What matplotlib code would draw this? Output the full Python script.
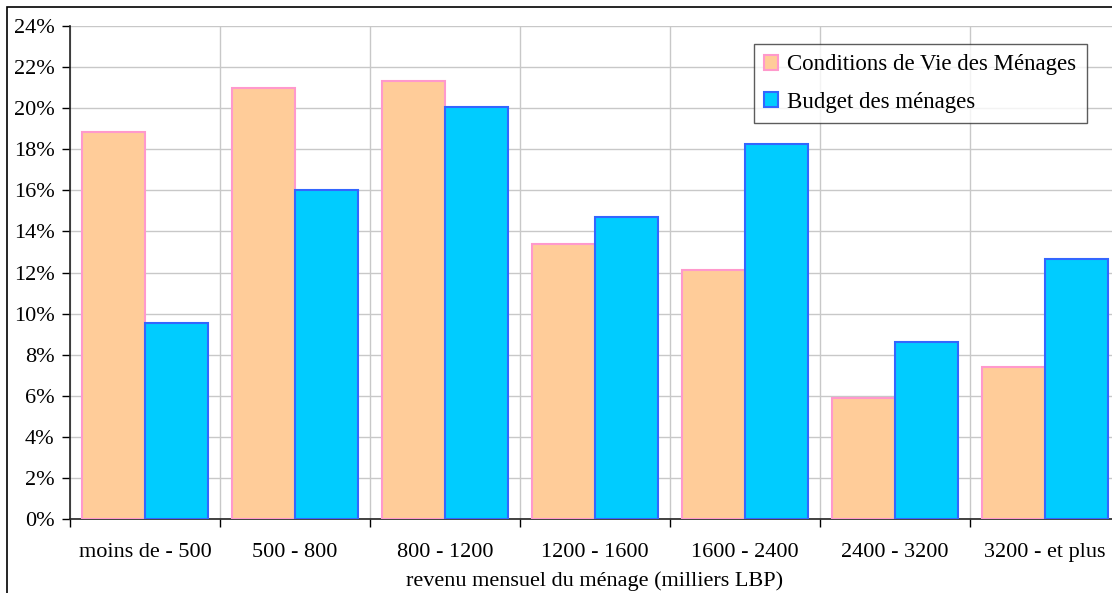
import matplotlib.pyplot as plt
import numpy as np
from matplotlib.patches import Rectangle
from matplotlib.ticker import FixedLocator, PercentFormatter

categories = ["moins de - 500", "500 - 800", "800 - 1200", "1200 - 1600",
              "1600 - 2400", "2400 - 3200", "3200 - et plus"]
conditions_vie = [18.85, 21.0, 21.3, 13.4, 12.1, 5.9, 7.4]
budget = [9.55, 16.0, 20.05, 14.7, 18.25, 8.6, 12.65]
series_names = ["Conditions de Vie des Ménages", "Budget des ménages"]

plt.rcParams["font.family"] = ["Liberation Serif", "DejaVu Serif"]

fig = plt.figure(figsize=(11.12, 5.93), dpi=100)
ax = fig.add_axes([70 / 1112, 1 - 519 / 593, 1050 / 1112, 493 / 593])

x = np.arange(len(categories))
w = 0.42
ax.bar(x - w / 2, conditions_vie, w, color="#FFCC99", edgecolor="#FF99CC",
       linewidth=1.5, label=series_names[0], zorder=3)
ax.bar(x + w / 2, budget, w, color="#00CCFF", edgecolor="#3366FF",
       linewidth=1.5, label=series_names[1], zorder=3)

ax.set_xlim(-0.5, len(categories) - 0.5)
ax.set_ylim(0, 24)
ax.set_yticks(np.arange(0, 25, 2))
ax.yaxis.set_major_formatter(PercentFormatter(decimals=0))

ax.xaxis.set_major_locator(FixedLocator(np.arange(-0.5, len(categories), 1)))
ax.xaxis.set_minor_locator(FixedLocator(x))
ax.set_xticklabels([])
ax.set_xticklabels(categories, minor=True)
ax.tick_params(axis="x", which="minor", length=0, pad=17, labelsize=16)
ax.tick_params(axis="x", which="major", length=6, width=1, direction="out")
ax.tick_params(axis="y", length=6, width=1, direction="out", labelsize=16, pad=5)

ax.grid(True, which="major", color="#C8C8C8", linewidth=1, zorder=0)
ax.set_axisbelow(True)

for side in ["top", "right"]:
    ax.spines[side].set_visible(False)
ax.spines["left"].set_color("#222222")
ax.spines["bottom"].set_color("#222222")
ax.spines["left"].set_linewidth(1.2)
ax.spines["bottom"].set_linewidth(1.2)

ax.set_xlabel("revenu mensuel du ménage (milliers LBP)", fontsize=16, labelpad=7)

leg = ax.legend(loc="upper left", bbox_to_anchor=(684 / 1050, 1 - 18 / 493),
                fontsize=16.5, frameon=True, fancybox=False, handlelength=0.6,
                handleheight=0.6, handletextpad=0.4, borderpad=0.45,
                labelspacing=0.72, borderaxespad=0)
leg.get_frame().set_edgecolor("#333333")
leg.get_frame().set_linewidth(1)

fig.patches.append(Rectangle((7 / 1112, -0.1), 1.2, 1.1 - 7 / 593,
                             transform=fig.transFigure, fill=False,
                             edgecolor="black", linewidth=1.2))

fig.savefig("out.png", dpi=100)
